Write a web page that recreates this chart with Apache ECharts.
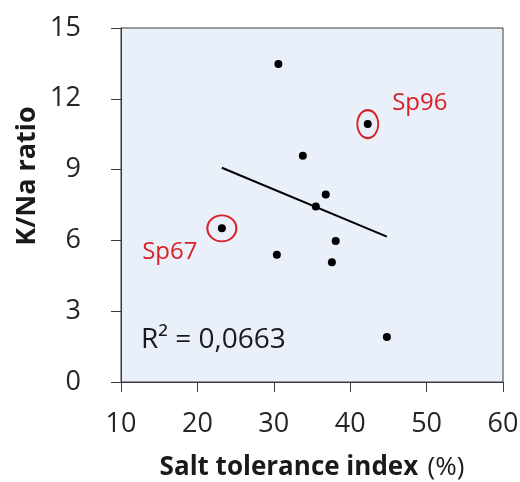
<!DOCTYPE html>
<html>
<head>
<meta charset="utf-8">
<script src="https://cdn.jsdelivr.net/npm/echarts@6/dist/echarts.min.js"></script>
<style>
html, body { margin: 0; padding: 0; background: #fff; }
#main { width: 520px; height: 482px; }
</style>
</head>
<body>
<div id="main"></div>
<script>
// salt tolerance index (%) vs K/Na ratio
var saltIndex = [30.6, 42.3, 33.8, 36.8, 35.5, 38.1, 23.2, 30.4, 37.6, 44.8];
var kNaRatio  = [13.47, 10.93, 9.59, 7.94, 7.44, 5.97, 6.51, 5.39, 5.07, 1.91];
var trendX = [23.2, 44.8];
var trendY = [9.08, 6.16];
var marked = [
  { name: 'Sp96', x: 42.3, y: 10.93 },
  { name: 'Sp67', x: 23.2, y: 6.51 }
];
var xTicks = [10, 60, 10]; // min, max, interval
var yTicks = [0, 15, 3];

var font = '"Open Sans", sans-serif';
var red = '#DA2128';
var chart = echarts.init(document.getElementById('main'));

var points = saltIndex.map(function (x, i) { return [x, kNaRatio[i]]; });

var option = {
  animation: false,
  grid: {
    left: 121, right: 17, top: 28, bottom: 100,
    outerBoundsMode: 'none',
    show: true,
    backgroundColor: '#EAF0FA',
    borderColor: '#3a3a3a',
    borderWidth: 1
  },
  xAxis: {
    type: 'value',
    min: xTicks[0], max: xTicks[1], interval: xTicks[2],
    splitLine: { show: false },
    axisLine: { lineStyle: { color: '#3a3a3a' } },
    axisTick: { inside: false, length: 10, lineStyle: { color: '#3a3a3a' } },
    axisLabel: { color: '#262626', fontSize: 27, fontFamily: font, margin: 29 },
    name: '{b|Salt tolerance index} {n|(%)}',
    nameLocation: 'middle',
    nameGap: 73,
    nameTextStyle: {
      rich: {
        b: { fontSize: 26, fontWeight: 'bold', color: '#1a1a1a', fontFamily: font, padding: [0, 6, 0, 0] },
        n: { fontSize: 26, color: '#1a1a1a', fontFamily: font }
      }
    }
  },
  yAxis: {
    type: 'value',
    min: yTicks[0], max: yTicks[1], interval: yTicks[2],
    splitLine: { show: false },
    axisLine: { show: true, lineStyle: { color: '#3a3a3a' } },
    axisTick: { show: true, inside: false, length: 10, lineStyle: { color: '#3a3a3a' } },
    axisLabel: { color: '#262626', fontSize: 27, fontFamily: font, margin: 40 }
  },
  graphic: [
    {
      type: 'text',
      x: 27, y: 176,
      rotation: Math.PI / 2,
      style: {
        text: 'K/Na ratio',
        font: 'bold 27px ' + font,
        fill: '#1a1a1a',
        align: 'center',
        verticalAlign: 'middle'
      }
    },
    {
      type: 'text',
      left: 141, top: 326,
      style: {
        text: 'R² = 0,0663',
        font: '28px ' + font,
        fill: '#1a1a1a'
      }
    }
  ],
  series: [
    {
      type: 'line',
      data: trendX.map(function (x, i) { return [x, trendY[i]]; }),
      symbol: 'none',
      lineStyle: { color: '#000', width: 2 },
      z: 2
    },
    {
      type: 'scatter',
      data: points,
      symbol: 'circle',
      symbolSize: 8,
      itemStyle: { color: '#000', opacity: 1 },
      z: 3
    },
    {
      type: 'scatter',
      data: [
        {
          value: [marked[0].x, marked[0].y],
          symbolSize: [21, 28],
          label: { formatter: marked[0].name, offset: [52, -21] }
        },
        {
          value: [marked[1].x, marked[1].y],
          symbolSize: [29, 26],
          label: { formatter: marked[1].name, offset: [-52, 24] }
        }
      ],
      symbol: 'circle',
      itemStyle: { color: 'rgba(0,0,0,0)', borderColor: red, borderWidth: 2, opacity: 1 },
      label: {
        show: true,
        position: 'inside',
        color: red,
        fontSize: 24,
        fontFamily: font
      },
      z: 4
    }
  ]
};
chart.setOption(option);
</script>
</body>
</html>
